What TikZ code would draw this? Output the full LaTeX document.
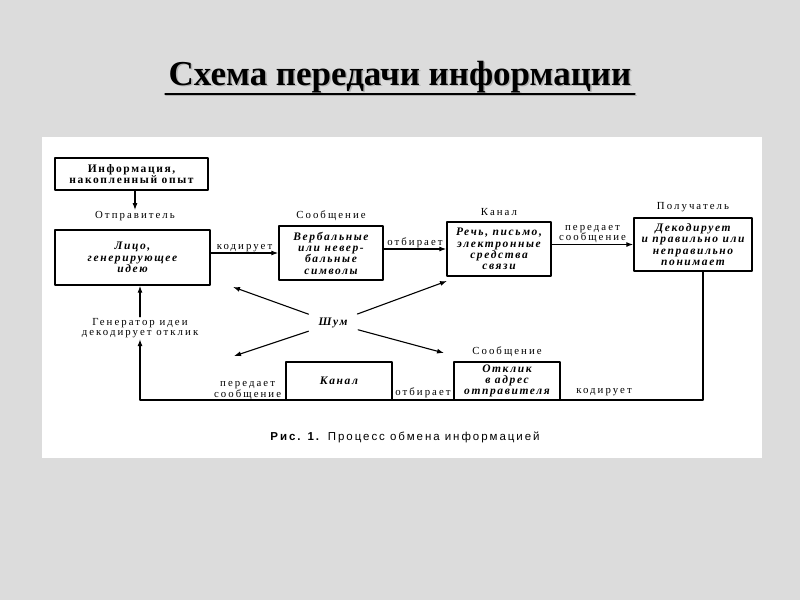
\documentclass[tikz,border=0pt]{standalone}
\usepackage{fontspec}
\setmainfont{Liberation Serif}
\newfontfamily\boxfont[LetterSpace=14]{Liberation Serif}
\newfontfamily\lblfont[LetterSpace=19]{Liberation Serif}
\newfontfamily\capfont[LetterSpace=17]{Liberation Sans}
\usetikzlibrary{arrows.meta,positioning}
\definecolor{PageGray}{HTML}{DCDCDC}

\begin{document}
\begin{tikzpicture}[x=1pt,y=-1pt,line cap=round,line join=round,
  box/.style={draw,line width=1.4pt,align=center,inner sep=0pt,
    font=\boxfont\bfseries\itshape\fontsize{11.5}{11.3}\selectfont},
  lbl/.style={align=center,inner sep=1pt,font=\lblfont\fontsize{10.8}{10.5}\selectfont},
  link/.style={line width=1.1pt,-{Latex[length=7pt,width=5pt]}}]
  % page and white panel
  \fill[PageGray] (0,0) rectangle (800,600);
  \fill[white] (42,137) rectangle (762,458);

  % title with a soft shadow
  \node[gray!60,font=\bfseries\fontsize{35}{38}\selectfont] at (401.5,78.5) {Схема передачи информации};
  \node[font=\bfseries\fontsize{35}{38}\selectfont] (title) at (400,77) {Схема передачи информации};
  \draw[gray!60,line width=1.8pt] (166,95.5) -- (636,95.5);
  \draw[line width=1.8pt] (title.west |- 0,94) -- (title.east |- 0,94);

  % upper row
  \node[box,minimum width=153pt,minimum height=32pt] (info) at (131.5,174) {\upshape Информация,\\\upshape накопленный опыт};
  \node[lbl] (sndlbl) at (135,216) {Отправитель};
  \node[box,minimum width=155pt,minimum height=55pt] (sender) at (132.5,257.5) {Лицо,\\генерирующее\\идею};
  \node[box,minimum width=104pt,minimum height=54pt] (symbols) at (331,253) {Вербальные\\или невер-\\бальные\\символы};
  \node[box,minimum width=104pt,minimum height=54pt] (channel) at (499,249) {Речь, письмо,\\электронные\\средства\\связи};
  \node[box,minimum width=118pt,minimum height=53pt] (receiver) at (693,244.5) {Декодирует\\и правильно или\\неправильно\\понимает};
  \node[lbl,above=3pt of symbols] {Сообщение};
  \node[lbl,above=4pt of channel] {Канал};
  \node[lbl,above=4pt of receiver] {Получатель};

  % lower row
  \node[box,minimum width=106pt,minimum height=38pt] (backchan) at (339,381) {Канал};
  \node[box,minimum width=106pt,minimum height=38pt] (reply) at (507,381) {Отклик\\в адрес\\отправителя};
  \node[lbl,above=3pt of reply] {Сообщение};
  \node[lbl] (gen) at (140,328) {Генератор идеи\\декодирует отклик};
  \node[box,draw=none] (noise) at (333,323) {Шум};

  % connectors
  \draw[link] (info.south -| sndlbl) -- (sndlbl);
  \draw[link] (sender.east |- symbols.west) -- node[lbl,above] {кодирует} (symbols.west);
  \draw[link] (symbols.east |- channel.west) -- node[lbl,above] {отбирает} (channel.west);
  \draw[link] (channel.east |- receiver.west) -- node[lbl,above] {передает\\сообщение} (receiver.west);

  \coordinate (rc) at (703,400);
  \coordinate (lc) at (140,400);
  \draw[link] (receiver.south -| rc) -- (rc) -- (lc) -- (gen);
  \draw[link] (gen) -- (gen.north |- sender.south);
  \node[lbl,above] at (604,397) {кодирует};
  \node[lbl,above] at (423,399) {отбирает};
  \node[lbl,above left=0pt and 3pt of backchan.south west] {передает\\сообщение};

  % noise arrows
  \coordinate (nUL) at (233,287);
  \coordinate (nUR) at (447,281);
  \coordinate (nLL) at (234,356);
  \coordinate (nLR) at (444,353);
  \foreach \P in {nUL,nUR,nLL,nLR}{\draw[link,shorten <=26pt] (noise.center) -- (\P);}

  % caption
  \node[font=\capfont\fontsize{11.5}{12}\selectfont] (caption) at (405,437) {\textbf{Рис. 1.} Процесс обмена информацией};
\end{tikzpicture}
\end{document}
